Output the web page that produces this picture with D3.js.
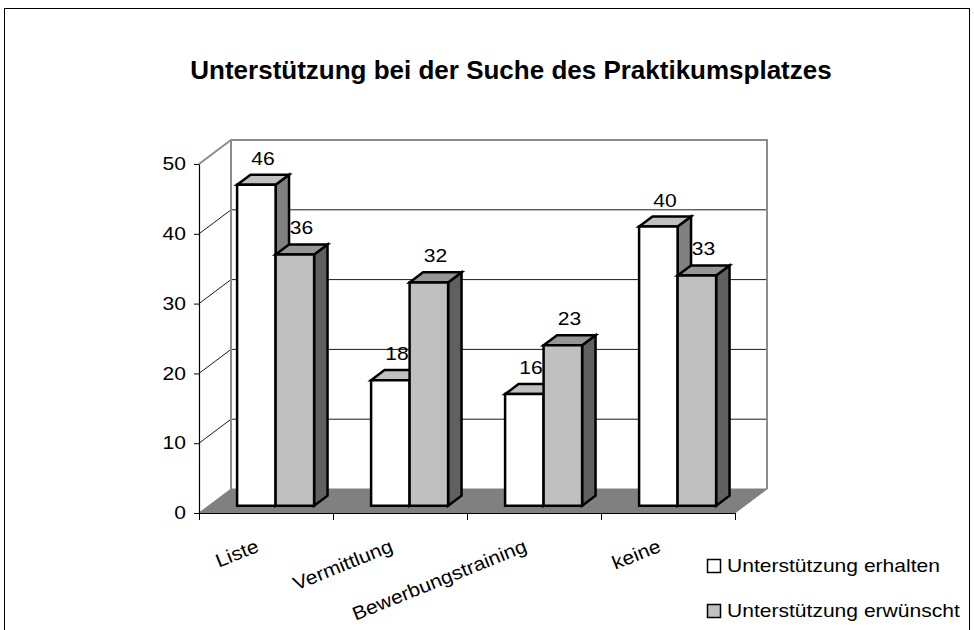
<!DOCTYPE html>
<html>
<head>
<meta charset="utf-8">
<script src="https://cdn.jsdelivr.net/npm/d3@7"></script>
<style>
  body { margin: 0; background: #fff; }
  text { font-family: "Liberation Sans", Arial, sans-serif; fill: #000; }
</style>
</head>
<body>
<svg id="chart" width="974" height="630"></svg>
<script>
// data
var categories = ["Liste", "Vermittlung", "Bewerbungstraining", "keine"];
var seriesNames = ["Unterstützung erhalten", "Unterstützung erwünscht"];
var erhalten = [46, 18, 16, 40];
var erwuenscht = [36, 32, 23, 33];
var yTicks = [0, 10, 20, 30, 40, 50];

var seriesValues = [erhalten, erwuenscht];
var frontFill = ["#ffffff", "#c0c0c0"];
var topFill = ["#c0c0c0", "#969696"];
var sideFill = ["#808080", "#606060"];

var svg = d3.select("#chart");
var sx = 1.17; // text looks stretched horizontally in the reference

// depth of the 3d box
var depth = {dx: 32, dy: -24};
var z0 = 0.3, z1 = 0.72;

var x = d3.scaleBand()
    .domain(categories)
    .range([199, 735]);

var xs = d3.scaleBand()
    .domain(seriesNames)
    .range([28.5, x.bandwidth() - 28.5]);

var y = d3.scaleLinear()
    .domain([0, 50])
    .range([513, 164]);

function P(px, py, z) {
    return [px + z * depth.dx, py + z * depth.dy];
}

function pts(arr) {
    return arr.map(function(p) { return p.join(","); }).join(" ");
}

// outer border
svg.append("rect")
    .attr("x", 4.5).attr("y", 8.5)
    .attr("width", 965).attr("height", 640)
    .attr("fill", "none")
    .attr("stroke", "#000")
    .attr("stroke-width", 1);

// title
svg.append("text")
    .attr("transform", "translate(511,79) scale(1.04,1)")
    .attr("text-anchor", "middle")
    .style("font-size", "25px")
    .style("font-weight", "bold")
    .text("Unterstützung bei der Suche des Praktikumsplatzes");

var x0 = x.range()[0], x1 = x.range()[1];

// floor
var floor = [P(x0, y(0), 0), P(x1, y(0), 0), P(x1, y(0), 1), P(x0, y(0), 1)];
svg.append("polygon")
    .attr("points", pts(floor))
    .attr("fill", "#808080")
    .attr("stroke", "#808080")
    .attr("stroke-width", 1);

// grid lines on back wall and left wall
var grid = svg.append("g").attr("class", "grid");
yTicks.filter(function(t) { return t > 0 && t < 50; }).forEach(function(t) {
    grid.append("polyline")
        .attr("points", pts([P(x0, y(t), 0), P(x0, y(t), 1), P(x1, y(t), 1)]))
        .attr("fill", "none")
        .attr("stroke", "#1a1a1a")
        .attr("stroke-width", 1);
});

// wall edges
svg.append("polyline")
    .attr("points", pts([P(x0, y(50), 0), P(x0, y(50), 1), P(x1, y(50), 1), P(x1, y(0), 1)]))
    .attr("fill", "none")
    .attr("stroke", "#8c8c8c")
    .attr("stroke-width", 2);
svg.append("polyline")
    .attr("points", pts([P(x0, y(50), 1), P(x0, y(0), 1)]))
    .attr("fill", "none")
    .attr("stroke", "#8c8c8c")
    .attr("stroke-width", 2);

// bars
var bars = svg.append("g").attr("class", "bars");
categories.forEach(function(cat, i) {
    seriesNames.forEach(function(s, j) {
        var v = seriesValues[j][i];
        var l = x(cat) + xs(s), r = l + xs.bandwidth();
        var t = y(v), b = y(0);
        var front = [P(l, t, z0), P(r, t, z0), P(r, b, z0), P(l, b, z0)];
        var top = [P(l, t, z0), P(l, t, z1), P(r, t, z1), P(r, t, z0)];
        var side = [P(r, t, z0), P(r, t, z1), P(r, b, z1), P(r, b, z0)];
        [[side, sideFill[j]], [top, topFill[j]], [front, frontFill[j]]].forEach(function(f) {
            bars.append("polygon")
                .attr("points", pts(f[0]))
                .attr("fill", f[1])
                .attr("stroke", "#000")
                .attr("stroke-width", 2.5)
                .attr("stroke-linejoin", "miter");
        });
        var lab = P(l + xs.bandwidth() / 2, t, (z0 + z1) / 2);
        var labY = P(l, t, z1)[1] - 10;
        bars.append("text")
            .attr("transform", "translate(" + lab[0] + "," + labY + ") scale(" + sx + ",1)")
            .attr("text-anchor", "middle")
            .style("font-size", "18px")
            .text(v);
    });
});

// y axis
var yAxis = d3.axisLeft(y)
    .tickValues(yTicks)
    .tickSize(5)
    .tickSizeOuter(0)
    .tickPadding(8);

var gy = svg.append("g")
    .attr("transform", "translate(" + x0 + ",0)")
    .call(yAxis);
gy.select(".domain").attr("stroke", "#000").attr("stroke-width", 1.2);
gy.selectAll(".tick line").attr("stroke", "#000");
gy.selectAll(".tick text")
    .attr("x", -13 / sx)
    .attr("transform", "scale(" + sx + ",1)")
    .style("font-size", "18px")
    .style("font-family", "'Liberation Sans', Arial, sans-serif");

// x axis with ticks at category boundaries
var xb = d3.scaleLinear().domain([0, categories.length]).range([x0, x1]);
var xAxis = d3.axisBottom(xb)
    .tickValues(d3.range(categories.length + 1))
    .tickFormat("")
    .tickSize(7)
    .tickSizeOuter(0);
var gx = svg.append("g")
    .attr("transform", "translate(0," + y(0) + ")")
    .call(xAxis);
gx.select(".domain").attr("stroke", "#000").attr("stroke-width", 1.2);
gx.selectAll(".tick line").attr("stroke", "#000");

// category labels
svg.selectAll(".cat")
    .data(categories)
    .enter()
    .append("text")
    .attr("class", "cat")
    .attr("transform", function(d) {
        return "translate(" + (x(d) + x.bandwidth() / 2 - 6) + ",551) rotate(-22) scale(" + sx + ",1.05)";
    })
    .attr("text-anchor", "end")
    .style("font-size", "18px")
    .text(function(d) { return d; });

// legend
var legend = svg.append("g").attr("transform", "translate(707,559)");
seriesNames.forEach(function(s, j) {
    var g = legend.append("g").attr("transform", "translate(0," + (j * 45) + ")");
    g.append("rect")
        .attr("x", 0.5).attr("y", 0.5)
        .attr("width", 13).attr("height", 13)
        .attr("fill", frontFill[j])
        .attr("stroke", "#000")
        .attr("stroke-width", 1.5);
    g.append("text")
        .attr("transform", "translate(20,13) scale(" + sx + ",1)")
        .style("font-size", "18px")
        .text(s);
});
</script>
</body>
</html>
